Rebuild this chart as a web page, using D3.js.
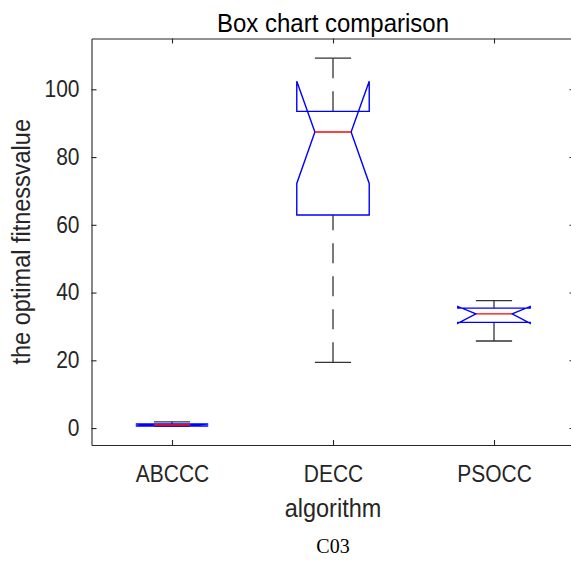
<!DOCTYPE html>
<html>
<head>
<meta charset="utf-8">
<script src="https://cdn.jsdelivr.net/npm/d3@7"></script>
<style>
  html, body { margin: 0; padding: 0; background: #fff; }
  svg { display: block; }
</style>
</head>
<body>
<svg id="chart" width="571" height="561"></svg>
<script>
// Box statistics per algorithm (fitness values)
const categories = ["ABCCC", "DECC", "PSOCC"];
const whiskerLow  = [0.55, 19.4, 25.7];
const quartile1   = [0.6, 62.9, 31.2];
const medians     = [0.9, 87.4, 33.7];
const quartile3   = [1.2, 93.5, 35.4];
const whiskerHigh = [1.85, 109.2, 37.6];
const notchLow    = [0.6, 72.2, 30.9];
const notchHigh   = [1.2, 102.4, 35.9];
const yTicks = [0, 20, 40, 60, 80, 100];

const boxes = categories.map((c, i) => ({
  name: c, pos: i + 1,
  lo: whiskerLow[i], q1: quartile1[i], med: medians[i],
  q3: quartile3[i], hi: whiskerHigh[i],
  nlo: notchLow[i], nhi: notchHigh[i]
}));

const svg = d3.select("#chart");
const m = { left: 91.5, right: 574.5, top: 38.5, bottom: 445 };
const axisColor = "#262626";
const sans = "'Liberation Sans', Arial, Helvetica, sans-serif";
const stretch = "scale(1,1.1)";   // slightly tall lettering

const x = d3.scaleLinear().domain([0.5, 3.5]).range([m.left, m.right]);
const y = d3.scaleLinear().domain([-5, 115]).range([m.bottom, m.top]);

// Axes (ticks point inward, box around the plot)
const gx = svg.append("g").attr("transform", `translate(0,${m.bottom})`)
  .call(d3.axisBottom(x).tickValues([1, 2, 3]).tickFormat(d => categories[d - 1]).tickSizeInner(-5).tickSizeOuter(0).tickPadding(19));
const gy = svg.append("g").attr("transform", `translate(${m.left},0)`)
  .call(d3.axisLeft(y).tickValues(yTicks).tickSizeInner(-5).tickSizeOuter(0).tickPadding(12));
const gxTop = svg.append("g").attr("transform", `translate(0,${m.top})`)
  .call(d3.axisTop(x).tickValues([1, 2, 3]).tickFormat("").tickSizeInner(-5).tickSizeOuter(0));
const gyRight = svg.append("g").attr("transform", `translate(${m.right},0)`)
  .call(d3.axisRight(y).tickValues(yTicks).tickFormat("").tickSizeInner(-5).tickSizeOuter(0));

[gx, gy, gxTop, gyRight].forEach(g => {
  g.selectAll("path.domain").attr("stroke", axisColor).attr("stroke-width", 1.1);
  g.selectAll(".tick line").attr("stroke", axisColor).attr("stroke-width", 1.1);
  g.selectAll("text").attr("fill", axisColor)
    .attr("transform", stretch)
    .style("font-family", sans)
    .style("font-size", "21px");
});
gx.selectAll(".tick text").attr("dy", "0.71em");

// Box plots
const boxW = x(1.225) - x(1);   // half width of a box
const plot = svg.append("g");

boxes.forEach(b => {
  const cx = x(b.pos);
  const g = plot.append("g");

  // whiskers (dashed, drawn from caps toward the box)
  g.append("line").attr("x1", cx).attr("x2", cx).attr("y1", y(b.hi)).attr("y2", y(b.q3))
    .attr("stroke", "#333").attr("stroke-width", 1.3).attr("stroke-dasharray", "20,13");
  g.append("line").attr("x1", cx).attr("x2", cx).attr("y1", y(b.lo)).attr("y2", y(b.q1))
    .attr("stroke", "#333").attr("stroke-width", 1.3).attr("stroke-dasharray", "20,13");

  // caps
  [b.hi, b.lo].forEach(v => {
    g.append("line").attr("x1", cx - boxW / 2).attr("x2", cx + boxW / 2)
      .attr("y1", y(v)).attr("y2", y(v))
      .attr("stroke", "#333").attr("stroke-width", 1.3);
  });

  // notched box outline
  const pts = [
    [cx - boxW, y(b.q1)], [cx - boxW, y(b.nlo)], [cx - boxW / 2, y(b.med)],
    [cx - boxW, y(b.nhi)], [cx - boxW, y(b.q3)], [cx + boxW, y(b.q3)],
    [cx + boxW, y(b.nhi)], [cx + boxW / 2, y(b.med)], [cx + boxW, y(b.nlo)],
    [cx + boxW, y(b.q1)]
  ];
  g.append("path").attr("d", d3.line()(pts) + "Z")
    .attr("fill", "none").attr("stroke", "#0000ff").attr("stroke-width", 1.4)
    .attr("stroke-linejoin", "miter");

  // median
  g.append("line").attr("x1", cx - boxW / 2).attr("x2", cx + boxW / 2)
    .attr("y1", y(b.med)).attr("y2", y(b.med))
    .attr("stroke", "#ff0000").attr("stroke-width", 1.4);
});

// Titles and labels
const midX = (m.left + m.right) / 2;
svg.append("text").attr("transform", `translate(${midX},32) ${stretch}`)
  .attr("text-anchor", "middle").attr("fill", "#000")
  .style("font-family", sans).style("font-size", "24px")
  .text("Box chart comparison");

svg.append("text").attr("transform", `translate(${midX},517) ${stretch}`)
  .attr("text-anchor", "middle").attr("fill", axisColor)
  .style("font-family", sans).style("font-size", "23.5px")
  .text("algorithm");

svg.append("text")
  .attr("transform", `translate(30,${(m.top + m.bottom) / 2}) rotate(-90) ${stretch}`)
  .attr("text-anchor", "middle").attr("fill", axisColor)
  .style("font-family", sans).style("font-size", "23.5px")
  .text("the optimal fitnessvalue");

svg.append("text").attr("x", midX).attr("y", 553)
  .attr("text-anchor", "middle").attr("fill", "#000")
  .style("font-family", "'Liberation Serif', 'Times New Roman', serif").style("font-size", "20px")
  .text("C03");
</script>
</body>
</html>
